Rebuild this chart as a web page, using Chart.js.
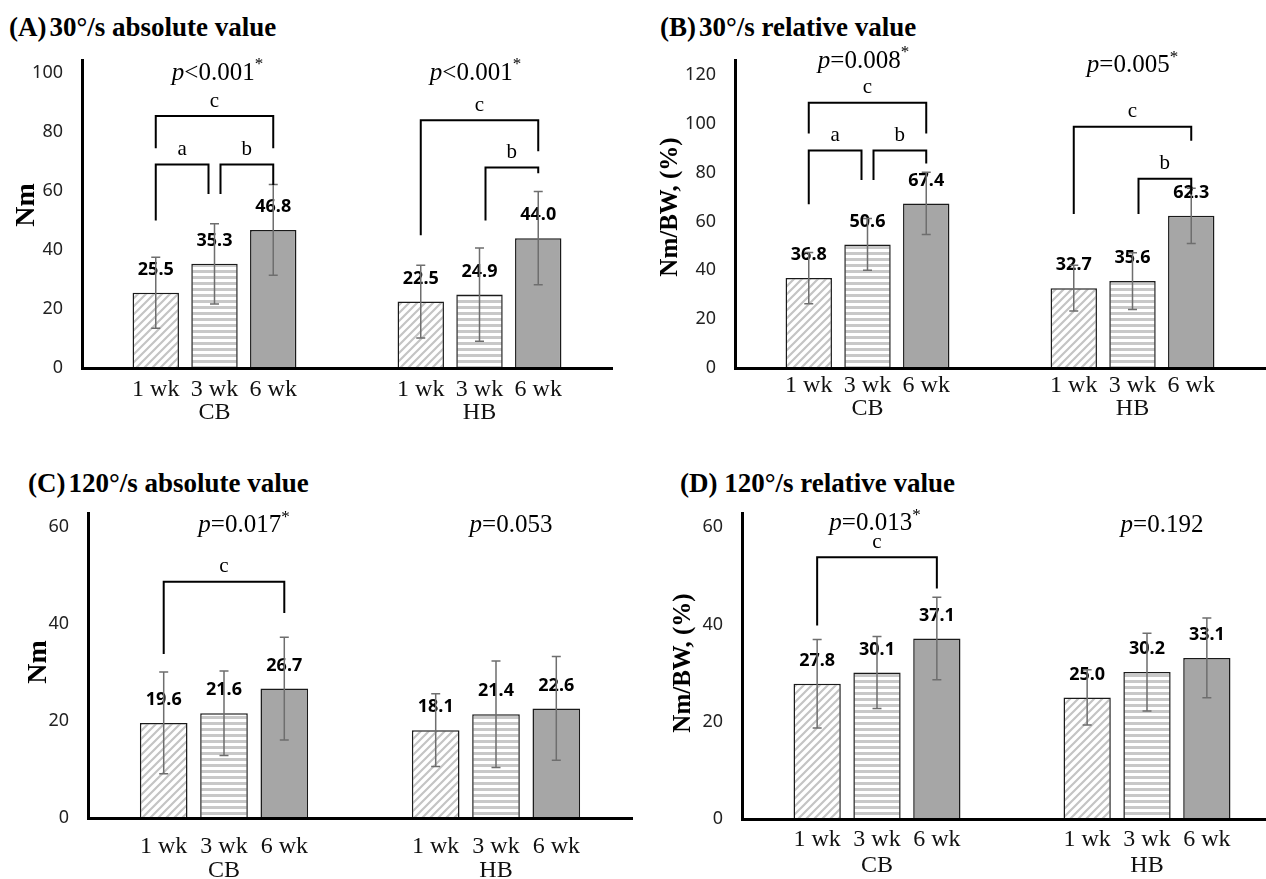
<!DOCTYPE html>
<html>
<head>
<meta charset="utf-8">
<script src="https://cdn.jsdelivr.net/npm/chart.js@4.4.1/dist/chart.umd.min.js"></script>
<style>
html, body { margin: 0; padding: 0; background: #fff; }
body { width: 1266px; height: 879px; overflow: hidden; position: relative; }
canvas { position: absolute; }
.ttl { position: absolute; font-family: "Liberation Serif", serif; font-weight: bold; font-size: 27px; line-height: 1; color: #000; white-space: nowrap; }
.ttl span { margin-left: 3px; }
</style>
</head>
<body>
<div class="ttl" style="left:9px; top:14px">(A)<span>30°/s absolute value</span></div>
<div class="ttl" style="left:660px; top:14px">(B)<span>30°/s relative value</span></div>
<div class="ttl" style="left:28px; top:470px">(C)<span>120°/s absolute value</span></div>
<div class="ttl" style="left:680px; top:470px">(D) 120°/s relative value</div>

<canvas id="cA" width="633" height="440" style="left:0; top:0"></canvas>
<canvas id="cB" width="633" height="440" style="left:633px; top:0"></canvas>
<canvas id="cC" width="633" height="439" style="left:0; top:440px"></canvas>
<canvas id="cD" width="650" height="439" style="left:633px; top:440px"></canvas>

<script>
// 그룹 / 측정 시점
const groups = ['CB', 'HB'];
const weeks = ['1 wk', '3 wk', '6 wk'];

// 각 배열: 주차별 [CB, HB]
const abs30Mean = [[25.5, 22.5], [35.3, 24.9], [46.8, 44.0]];
const abs30Sd   = [[12.0, 12.3], [13.6, 15.8], [15.4, 15.8]];
const rel30Mean = [[36.8, 32.7], [50.6, 35.6], [67.4, 62.3]];
const rel30Sd   = [[10.5, 9.4], [10.6, 11.6], [12.7, 11.3]];
const abs120Mean = [[19.6, 18.1], [21.6, 21.4], [26.7, 22.6]];
const abs120Sd   = [[10.5, 7.5], [8.7, 11.0], [10.6, 10.7]];
const rel120Mean = [[27.8, 25.0], [30.1, 30.2], [37.1, 33.1]];
const rel120Sd   = [[9.1, 5.7], [7.4, 8.0], [8.5, 8.2]];

// y축 눈금
const ticks30abs = [0, 20, 40, 60, 80, 100];
const ticks30rel = [0, 20, 40, 60, 80, 100, 120];
const ticks120 = [0, 20, 40, 60];

// p 값 (그룹별)
const pAbs30 = ['<0.001*', '<0.001*'];
const pRel30 = ['=0.008*', '=0.005*'];
const pAbs120 = ['=0.017*', '=0.053'];
const pRel120 = ['=0.013*', '=0.192'];

// 사후검정 괄호: [그룹, 시작 막대, 끝 막대, 윗선, 왼쪽 끝, 오른쪽 끝, 문자]
const brAbs30 = [
    [0, 0, 2, 85.4, 74.5, 74.5, 'c'],
    [0, 0, 1, 69, 50, 59, 'a'],
    [0, 1, 2, 69, 59, 62, 'b'],
    [1, 0, 2, 84, 45, 73.5, 'c'],
    [1, 1, 2, 68, 50, 66, 'b']
];
const brRel30 = [
    [0, 0, 2, 108.6, 96, 96, 'c'],
    [0, 0, 1, 89, 67, 77, 'a'],
    [0, 1, 2, 89, 77, 83.7, 'b'],
    [1, 0, 2, 98.8, 63, 93, 'c'],
    [1, 1, 2, 77.5, 63, 71, 'b']
];
const brAbs120 = [
    [0, 0, 2, 48.7, 33.8, 42.3, 'c']
];
const brRel120 = [
    [0, 0, 2, 53.8, 39.8, 47.4, 'c']
];

// 패널 배치
const panels = [
    { id: 'cA', area: { l: 82, r: 612, t: 60, b: 368 }, yMax: 104.4, ticks: ticks30abs,
      mean: abs30Mean, sd: abs30Sd, p: pAbs30, pY: [100, 100], pDx: [3, -4], br: brAbs30,
      yTitle: 'Nm', yTitlePos: [27, 205], wkDy: 22, grpDy: 45 },
    { id: 'cB', area: { l: 102, r: 632, t: 60, b: 368 }, yMax: 126.1, ticks: ticks30rel,
      mean: rel30Mean, sd: rel30Sd, p: pRel30, pY: [125.7, 123.7], pDx: [-4, 0], br: brRel30,
      yTitle: 'Nm/BW, (%)', yTitlePos: [38, 207], wkDy: 18, grpDy: 41 },
    { id: 'cC', area: { l: 88, r: 632, t: 73, b: 378 }, yMax: 62.9, ticks: ticks120,
      mean: abs120Mean, sd: abs120Sd, p: pAbs120, pY: [60.4, 60.4], pDx: [20, 15], br: brAbs120,
      yTitle: 'Nm', yTitlePos: [39, 222], wkDy: 29, grpDy: 53 },
    { id: 'cD', area: { l: 109, r: 649, t: 73, b: 379 }, yMax: 62.9, ticks: ticks120,
      mean: rel120Mean, sd: rel120Sd, p: pRel120, pY: [60.8, 60.4], pDx: [-2, 15], br: brRel120,
      yTitle: 'Nm/BW, (%)', yTitlePos: [51, 223], wkDy: 21, grpDy: 47 }
];

// 막대 무늬
function makeDiag() {
    const c = document.createElement('canvas');
    c.width = 8; c.height = 8;
    const g = c.getContext('2d');
    g.fillStyle = '#fff';
    g.fillRect(0, 0, 8, 8);
    g.strokeStyle = '#c4c4c4';
    g.lineWidth = 2.2;
    g.beginPath();
    g.moveTo(-2, 10); g.lineTo(10, -2);
    g.moveTo(-2, 2); g.lineTo(2, -2);
    g.moveTo(6, 10); g.lineTo(10, 6);
    g.stroke();
    return g.createPattern(c, 'repeat');
}

function makeHoriz() {
    const c = document.createElement('canvas');
    c.width = 4; c.height = 6;
    const g = c.getContext('2d');
    g.fillStyle = '#fff';
    g.fillRect(0, 0, 4, 6);
    g.fillStyle = '#c8c8c8';
    g.fillRect(0, 0, 4, 3);
    return g.createPattern(c, 'repeat');
}

const fills = [makeDiag(), makeHoriz(), '#a6a6a6'];

function drawRich(ctx, parts, cx, cy) {
    let total = 0;
    parts.forEach(pt => { ctx.font = pt.font; pt.w = ctx.measureText(pt.t).width; total += pt.w; });
    let x = cx - total / 2;
    ctx.textAlign = 'left';
    ctx.textBaseline = 'middle';
    parts.forEach(pt => {
        ctx.font = pt.font;
        ctx.fillText(pt.t, x, cy + (pt.dy || 0));
        x += pt.w;
    });
}

const annot = {
    id: 'annot',
    afterDraw(chart, args, opts) {
        const cfg = opts.cfg;
        const ctx = chart.ctx;
        const ys = chart.scales.y;
        const barX = (g, i) => chart.getDatasetMeta(i).data[g].x;
        const gap = 6;

        ctx.save();
        ctx.fillStyle = '#000';

        // 값 라벨
        ctx.font = 'bold 18px "Noto Sans"';
        ctx.textAlign = 'center';
        ctx.textBaseline = 'middle';
        for (let i = 0; i < weeks.length; i++) {
            for (let g = 0; g < groups.length; g++) {
                const v = cfg.mean[i][g];
                ctx.fillText(v.toFixed(1), barX(g, i), ys.getPixelForValue(v) - 23);
            }
        }

        // 오차 막대
        ctx.strokeStyle = '#6e6e6e';
        ctx.lineWidth = 1.5;
        for (let i = 0; i < weeks.length; i++) {
            for (let g = 0; g < groups.length; g++) {
                const x = barX(g, i);
                const yt = ys.getPixelForValue(cfg.mean[i][g] + cfg.sd[i][g]);
                const yb = ys.getPixelForValue(cfg.mean[i][g] - cfg.sd[i][g]);
                ctx.beginPath();
                ctx.moveTo(x, yt); ctx.lineTo(x, yb);
                ctx.moveTo(x - 4.5, yt); ctx.lineTo(x + 4.5, yt);
                ctx.moveTo(x - 4.5, yb); ctx.lineTo(x + 4.5, yb);
                ctx.stroke();
            }
        }

        // 괄호
        ctx.strokeStyle = '#000';
        ctx.lineWidth = 2;
        ctx.font = '21px "Liberation Serif"';
        ctx.textAlign = 'center';
        cfg.br.forEach(b => {
            const [g, from, to, top, le, re, letter] = b;
            const xl = barX(g, from) + (from === 1 ? gap : 0);
            const xr = barX(g, to) - (to === 1 ? gap : 0);
            const yTop = ys.getPixelForValue(top);
            ctx.beginPath();
            ctx.moveTo(xl, ys.getPixelForValue(le));
            ctx.lineTo(xl, yTop);
            ctx.lineTo(xr, yTop);
            ctx.lineTo(xr, ys.getPixelForValue(re));
            ctx.stroke();
            ctx.fillText(letter, (xl + xr) / 2, yTop - 15);
        });

        // p 값
        cfg.p.forEach((s, g) => {
            const star = s.endsWith('*');
            const parts = [
                { t: 'p', font: 'italic 25px "Liberation Serif"' },
                { t: star ? s.slice(0, -1) : s, font: '25px "Liberation Serif"' }
            ];
            if (star) parts.push({ t: '*', font: '17px "Liberation Serif"', dy: -8 });
            drawRich(ctx, parts, barX(g, 1) + cfg.pDx[g], ys.getPixelForValue(cfg.pY[g]));
        });

        // x축 라벨
        ctx.font = '24px "Liberation Serif"';
        ctx.textAlign = 'center';
        ctx.textBaseline = 'middle';
        ctx.fillStyle = '#111';
        const b = chart.chartArea.bottom;
        for (let g = 0; g < groups.length; g++) {
            for (let i = 0; i < weeks.length; i++) {
                ctx.fillText(weeks[i], barX(g, i), b + cfg.wkDy);
            }
            ctx.fillText(groups[g], barX(g, 1), b + cfg.grpDy);
        }

        // y축 제목
        ctx.fillStyle = '#000';
        ctx.font = cfg.yTitle === 'Nm' ? 'bold 28px "Liberation Serif"' : 'bold 25px "Liberation Serif"';
        ctx.translate(cfg.yTitlePos[0], cfg.yTitlePos[1]);
        ctx.rotate(-Math.PI / 2);
        ctx.fillText(cfg.yTitle, 0, 0);
        ctx.restore();
    }
};

function renderPanel(cfg) {
    const canvas = document.getElementById(cfg.id);
    const W = canvas.width, H = canvas.height;
    new Chart(canvas.getContext('2d'), {
        type: 'bar',
        data: {
            labels: groups,
            datasets: weeks.map((w, i) => ({
                label: w,
                data: cfg.mean[i],
                backgroundColor: fills[i],
                borderColor: '#1a1a1a',
                borderWidth: 1.5,
                categoryPercentage: 0.665,
                barPercentage: 0.79
            }))
        },
        options: {
            responsive: false,
            animation: false,
            layout: { padding: { left: 0, top: cfg.area.t, right: W - cfg.area.r, bottom: 0 } },
            plugins: {
                legend: { display: false },
                tooltip: { enabled: false },
                annot: { cfg: cfg }
            },
            scales: {
                x: {
                    grid: { display: false, drawTicks: false },
                    border: { display: true, color: '#000', width: 3, z: 1 },
                    ticks: { display: false },
                    afterFit: s => { s.height = H - cfg.area.b; }
                },
                y: {
                    min: 0,
                    max: cfg.yMax,
                    grid: { display: false, drawTicks: false },
                    border: { display: true, color: '#000', width: 3, z: 1 },
                    ticks: { padding: 19, color: '#222', font: { family: 'Noto Sans', size: 18 } },
                    afterBuildTicks: s => { s.ticks = cfg.ticks.map(v => ({ value: v })); },
                    afterFit: s => { s.width = cfg.area.l; }
                }
            }
        },
        plugins: [annot]
    });
}

panels.forEach(renderPanel);
</script>
</body>
</html>
